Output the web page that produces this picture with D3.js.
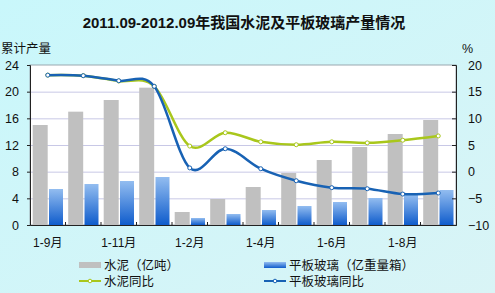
<!DOCTYPE html>
<html>
<head>
<meta charset="utf-8">
<script src="https://cdn.jsdelivr.net/npm/d3@7"></script>
<style>
body { margin: 0; background: #cff6f9; }
text { font-family: "Liberation Sans", "Noto Sans CJK SC", sans-serif; fill: #111; }
</style>
</head>
<body>
<div id="chart"></div>
<script>
var w = 495,
	h = 293,
	plotLeft = 30,
	plotRight = 456,
	plotTop = 65,
	plotBottom = 225;

// 月份（累计）
var months = ['1-9月', '1-10月', '1-11月', '1-12月', '1-2月', '1-3月', '1-4月', '1-5月', '1-6月', '1-7月', '1-8月', '1-9月'];
var shownLabels = [0, 2, 4, 6, 8, 10];
// 累计产量
var cement = [15.0, 17.0, 18.75, 20.6, 1.95, 3.9, 5.7, 7.8, 9.75, 11.7, 13.65, 15.75];
var glass = [5.4, 6.15, 6.6, 7.2, 1.05, 1.65, 2.25, 2.85, 3.45, 4.05, 4.55, 5.25];
// 同比 %
var cementYoy = [18.1, 18.0, 17.0, 16.0, 4.8, 7.3, 5.6, 5.05, 5.6, 5.4, 5.9, 6.7];
var glassYoy = [18.1, 18.0, 17.05, 16.0, 0.7, 4.3, 0.55, -1.7, -3.0, -3.2, -4.2, -4.0];
var leftTicks = [0, 4, 8, 12, 16, 20, 24];
var rightTicks = [-10, -5, 0, 5, 10, 15, 20];

var svg = d3.select('#chart').append('svg')
	.attr('width', w)
	.attr('height', h);

var defs = svg.append('defs');
var bg = defs.append('linearGradient').attr('id', 'bg').attr('x1', 0).attr('y1', 0).attr('x2', 1).attr('y2', 1);
bg.append('stop').attr('offset', 0).attr('stop-color', '#c9f7fb');
bg.append('stop').attr('offset', 1).attr('stop-color', '#d9f4f6');
var gl = defs.append('linearGradient').attr('id', 'glass').attr('x1', 0).attr('y1', 0).attr('x2', 0).attr('y2', 1);
gl.append('stop').attr('offset', 0).attr('stop-color', '#93bdf0');
gl.append('stop').attr('offset', 1).attr('stop-color', '#0f5ccc');

svg.append('rect').attr('width', w).attr('height', h).style('fill', 'url(#bg)');

var x = d3.scaleBand().domain(d3.range(months.length)).range([plotLeft, plotRight]).paddingInner(0).paddingOuter(0);
var yL = d3.scaleLinear().domain([0, 24]).range([plotBottom, plotTop]);
var yR = d3.scaleLinear().domain([-10, 20]).range([plotBottom, plotTop]);
var bw = x.bandwidth();

// plot area
svg.append('rect')
	.attr('x', plotLeft).attr('y', plotTop)
	.attr('width', plotRight - plotLeft).attr('height', plotBottom - plotTop)
	.style('fill', '#fff')
	.style('stroke', '#9aa8b0');

svg.append('g').selectAll('line')
	.data(leftTicks.slice(1, -1))
	.enter().append('line')
	.attr('x1', plotLeft).attr('x2', plotRight)
	.attr('y1', function(d) { return yL(d) + 0.5 })
	.attr('y2', function(d) { return yL(d) + 0.5 })
	.style('stroke', '#c8c8e6');

// bars
svg.append('g').selectAll('rect')
	.data(cement)
	.enter().append('rect')
	.attr('x', function(d, i) { return x(i) + 2.7 })
	.attr('y', function(d) { return yL(d) })
	.attr('width', 15)
	.attr('height', function(d) { return plotBottom - yL(d) })
	.style('fill', '#c0c0c0');

svg.append('g').selectAll('rect')
	.data(glass)
	.enter().append('rect')
	.attr('x', function(d, i) { return x(i) + 19 })
	.attr('y', function(d) { return yL(d) })
	.attr('width', 14)
	.attr('height', function(d) { return plotBottom - yL(d) })
	.style('fill', 'url(#glass)');

// axes
var axL = svg.append('g').attr('transform', 'translate(' + plotLeft + ',0)')
	.call(d3.axisLeft(yL).tickValues(leftTicks).tickSize(3).tickPadding(8));
var axR = svg.append('g').attr('transform', 'translate(' + plotRight + ',0)')
	.call(d3.axisRight(yR).tickValues(rightTicks).tickSize(-4).tickPadding(12));
var axB = svg.append('g').attr('transform', 'translate(0,' + plotBottom + ')')
	.call(d3.axisBottom(x).tickValues([]).tickSize(0));

[axL, axR].forEach(function(a) {
	a.select('.domain').style('stroke', '#222');
	a.selectAll('line').style('stroke', '#222');
	a.selectAll('text').style('font-size', '12.5px').style('fill', '#111')
		.style('font-family', '"Liberation Sans", sans-serif');
});
axB.select('.domain').style('stroke', '#222');

svg.append('g').selectAll('line')
	.data(d3.range(1, months.length))
	.enter().append('line')
	.attr('x1', function(d) { return x(d) }).attr('x2', function(d) { return x(d) })
	.attr('y1', plotBottom - 3).attr('y2', plotBottom)
	.style('stroke', '#222');

svg.append('g').selectAll('text')
	.data(shownLabels)
	.enter().append('text')
	.attr('x', function(d) { return x(d) + bw / 2 })
	.attr('y', 247)
	.attr('text-anchor', 'middle')
	.style('font-size', '12px')
	.text(function(d) { return months[d] });

// lines
var line = d3.line()
	.x(function(d, i) { return x(i) + bw / 2 })
	.y(function(d) { return yR(d) })
	.curve(d3.curveCardinal);

function drawSeries(data, color) {
	svg.append('path')
		.datum(data)
		.attr('d', line)
		.style('fill', 'none')
		.style('stroke', color)
		.style('stroke-width', 2.5);
	svg.append('g').selectAll('circle')
		.data(data)
		.enter().append('circle')
		.attr('cx', function(d, i) { return x(i) + bw / 2 })
		.attr('cy', function(d) { return yR(d) })
		.attr('r', 2)
		.style('fill', '#fff')
		.style('stroke', color)
		.style('stroke-width', 1);
}
drawSeries(cementYoy, '#a9c71c');
drawSeries(glassYoy, '#1862b4');

// titles
svg.append('text')
	.attr('x', 244).attr('y', 28)
	.attr('text-anchor', 'middle')
	.style('font-size', '15px')
	.style('font-weight', 'bold')
	.text('2011.09-2012.09年我国水泥及平板玻璃产量情况');
svg.append('text').attr('x', 1).attr('y', 53).style('font-size', '12.5px').text('累计产量');
svg.append('text').attr('x', 462).attr('y', 53).style('font-size', '12.5px').text('%');

// legend
var legend = [
	{ name: '水泥（亿吨）', type: 'bar', fill: '#c0c0c0', x: 79, y: 265 },
	{ name: '平板玻璃（亿重量箱）', type: 'bar', fill: 'url(#glass)', x: 264, y: 265 },
	{ name: '水泥同比', type: 'line', fill: '#a9c71c', x: 79, y: 281 },
	{ name: '平板玻璃同比', type: 'line', fill: '#1862b4', x: 264, y: 281 }
];
var lg = svg.append('g').selectAll('g')
	.data(legend)
	.enter().append('g')
	.attr('transform', function(d) { return 'translate(' + d.x + ',' + d.y + ')' });
lg.filter(function(d) { return d.type == 'bar' }).append('rect')
	.attr('x', 0).attr('y', -3).attr('width', 22).attr('height', 6)
	.style('fill', function(d) { return d.fill });
lg.filter(function(d) { return d.type == 'line' }).append('line')
	.attr('x1', 0).attr('x2', 22).attr('y1', 0).attr('y2', 0)
	.style('stroke', function(d) { return d.fill })
	.style('stroke-width', 2);
lg.filter(function(d) { return d.type == 'line' }).append('circle')
	.attr('cx', 11).attr('cy', 0).attr('r', 1.8)
	.style('fill', '#fff')
	.style('stroke', function(d) { return d.fill });
lg.append('text')
	.attr('x', 25).attr('y', 4.5)
	.style('font-size', '12.5px')
	.text(function(d) { return d.name });
</script>
</body>
</html>
